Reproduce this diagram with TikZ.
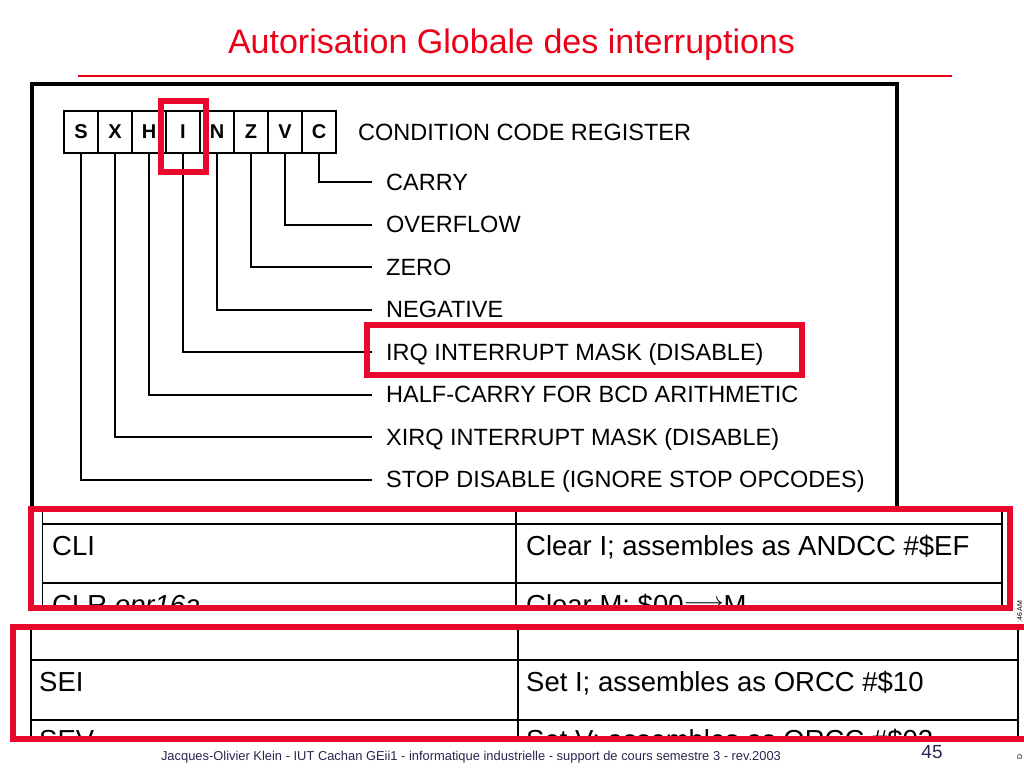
\documentclass[tikz,border=0pt]{standalone}
\usepackage{fontspec}
\setmainfont{Liberation Sans}
\usetikzlibrary{positioning}

\definecolor{slidered}{RGB}{232,10,45}
\definecolor{titlered}{RGB}{236,0,24}
\definecolor{footblue}{RGB}{38,38,80}

\begin{document}
\begin{tikzpicture}[
	x=1pt,
	y=-1pt,
	every bit/.style={draw, line width=2pt, minimum width=34pt, minimum height=42pt, inner sep=0pt, font=\fontsize{20}{20}\selectfont\bfseries},
	every flag/.style={anchor=west, inner xsep=14pt, inner ysep=0pt, text height=16.8pt, text depth=0pt, font=\fontsize{23.5}{23.5}\selectfont},
	highlight/.style={draw=slidered, line width=6pt},
	cell text/.style={anchor=base west, inner sep=0pt, text depth=0pt, font=\fontsize{27.5}{27.5}\selectfont},
	grid line/.style={line width=1.6pt}
]

\useasboundingbox (0,0) rectangle (1024,768);

% title
\node [anchor=base, text=titlered, font=\fontsize{34}{34}\selectfont] (title) at (511.5,53) {Autorisation Globale des interruptions};
\coordinate (rule-l) at (78,76);
\coordinate (rule-r) at (952,76);
\draw [titlered, line width=1.2pt] (rule-l) -- (rule-r);

% frame of the register figure
\draw [line width=4pt] (32,506) -- (32,84) -- (897,84) -- (897,506);

% condition code register
\foreach \b [count=\i] in {S, X, H, I, N, Z, V, C}
	\node [every bit] (bit-\b) at (47+34*\i, 132) {\b};

\node [every flag, inner xsep=0pt] (ccr) at (358,132) {CONDITION CODE REGISTER};

\foreach \b/\l [count=\i] in {C/CARRY, V/OVERFLOW, Z/ZERO, N/NEGATIVE, I/IRQ INTERRUPT MASK (DISABLE), H/HALF-CARRY FOR BCD ARITHMETIC, X/XIRQ INTERRUPT MASK (DISABLE), S/STOP DISABLE (IGNORE STOP OPCODES)}
	\node [every flag] (flag-\b) at (372, 139.5+42.5*\i) {\l};

\foreach \b in {S, X, H, I, N, Z, V, C}
	\draw [line width=2pt] (bit-\b.south) |- (flag-\b.west);

\draw [highlight] ([shift={(-4.5pt,9.5pt)}]bit-I.north west) rectangle ([shift={(4.5pt,-17.5pt)}]bit-I.south east);
\draw [highlight] (367,325) rectangle (802,375);

% table CLI
\begin{scope}
	\clip (31,508.5) rectangle (1010,608);
	\foreach \x in {42.5, 516, 1002}
		\draw [grid line] (\x,500) -- (\x,620);
	\foreach \y in {524, 583}
		\draw [grid line] (42.5,\y) -- (1002,\y);
	\node [cell text] (cli) at (52,555) {CLI};
	\node [cell text] (cli-text) at (526,555) {Clear I; assembles as ANDCC \#\$EF};
	\node [cell text] (clr) at (52,614) {CLR \textit{opr16a}};
	\node [cell text] (clr-text) at (526,614) {Clear M; \$00\raisebox{5pt}{$\longrightarrow$}M};
\end{scope}

% table SEI
\begin{scope}
	\clip (13,627) rectangle (1030,739);
	\foreach \x in {31, 518, 1018}
		\draw [grid line] (\x,620) -- (\x,750);
	\foreach \y in {660, 720}
		\draw [grid line] (31,\y) -- (1018,\y);
	\node [cell text] (sei) at (39,691) {SEI};
	\node [cell text] (sei-text) at (526,691) {Set I; assembles as ORCC \#\$10};
	\node [cell text] (sev) at (39,749) {SEV};
	\node [cell text] (sev-text) at (526,749) {Set V; assembles as ORCC \#\$02};
\end{scope}

\draw [highlight] (31,508.5) rectangle (1010,608);
\draw [highlight] (13,627) rectangle (1030,739);

% footer
\node [anchor=base, text=footblue, font=\fontsize{12.9}{12.9}\selectfont] (footer) at (471,760) {Jacques-Olivier Klein - IUT Cachan GEii1 - informatique industrielle - support de cours semestre 3 - rev.2003};
\node [anchor=base, text=footblue, font=\fontsize{19}{19}\selectfont] (page) at (932,758) {45};
\node [rotate=90, anchor=base east, font=\fontsize{7}{7}\selectfont] (time) at (1022,597) {:46 AM};
\node [rotate=90, anchor=base west, font=\fontsize{7}{7}\selectfont] (date) at (1022,763) {D};

\end{tikzpicture}
\end{document}
